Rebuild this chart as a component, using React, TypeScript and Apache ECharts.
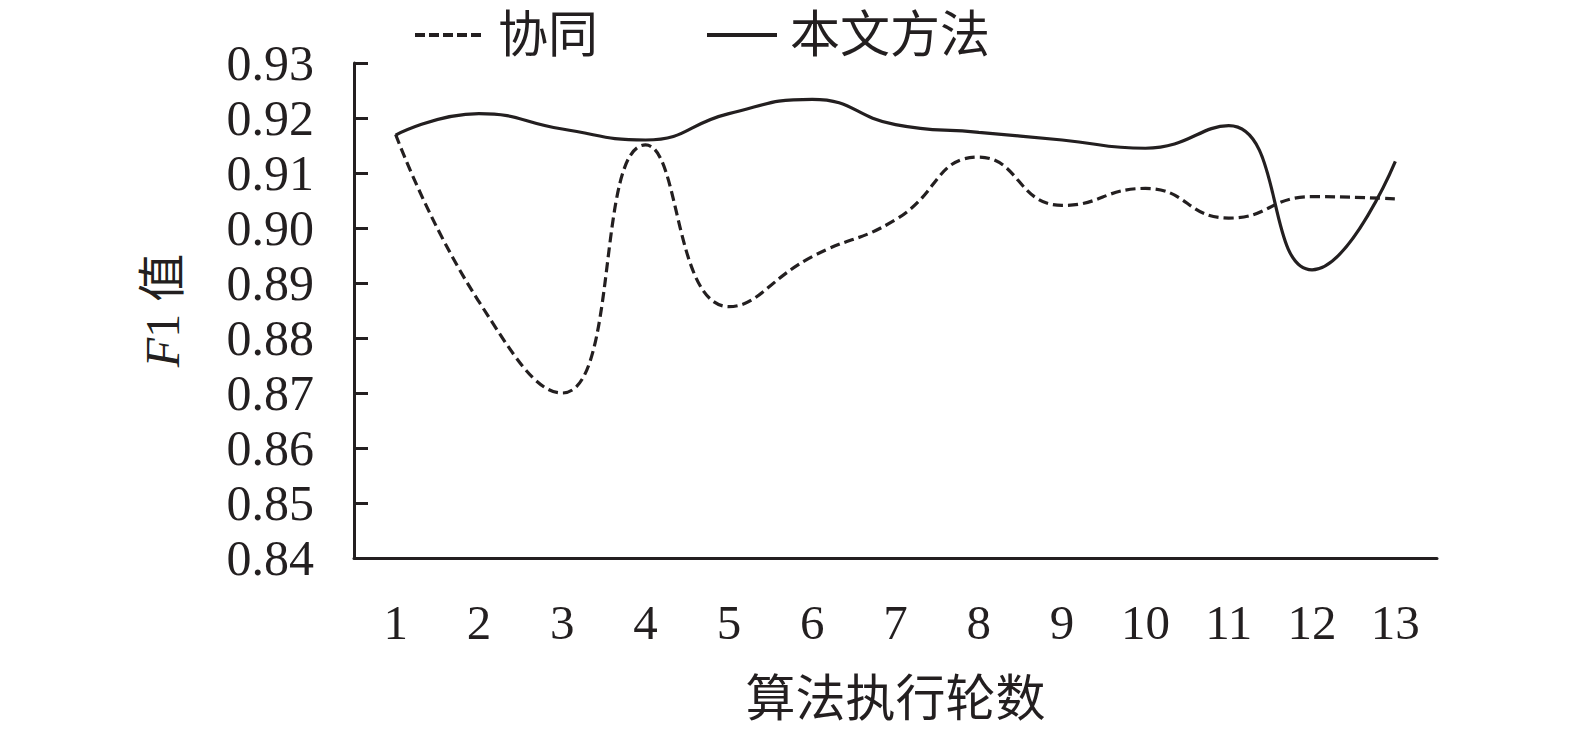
import React, { useEffect, useRef } from "react";
import * as echarts from "echarts";

const categories = ["1", "2", "3", "4", "5", "6", "7", "8", "9", "10", "11", "12", "13"];
const seriesNames = ["协同", "本文方法"];
const xieTong = [0.917, 0.8866, 0.87, 0.9151, 0.8857, 0.8948, 0.9015, 0.9129, 0.9041, 0.9072, 0.9018, 0.9057, 0.9053];
const benWen = [0.9169, 0.9208, 0.918, 0.916, 0.9208, 0.9234, 0.9188, 0.9174, 0.916, 0.9145, 0.9186, 0.8924, 0.9121];
const yMin = 0.84;
const yMax = 0.93;
const yStep = 0.01;

const INK = "#231f20";
const SERIF = "'Liberation Serif', 'Times New Roman', 'Noto Sans CJK SC', serif";

export default function App() {
  const ref = useRef<HTMLDivElement>(null);
  useEffect(() => {
    if (!ref.current) return;
    const chart = echarts.init(ref.current, null, { renderer: "svg" });
    chart.setOption({
      animation: false,
      backgroundColor: "#ffffff",
      textStyle: { fontFamily: SERIF, color: INK },
      legend: {
        left: 408,
        top: 5,
        itemWidth: 70,
        itemHeight: 16,
        itemGap: 107,
        itemStyle: { opacity: 0 },
        textStyle: { fontSize: 50, color: INK, fontFamily: SERIF, padding: [0, 0, 0, 8] },
        data: [
          { name: seriesNames[0], lineStyle: { width: 4, type: [10, 4], color: INK } },
          { name: seriesNames[1], lineStyle: { width: 4, type: "solid", color: INK } },
        ],
      },
      grid: { left: 354, right: 138, top: 63, bottom: 176, containLabel: false },
      xAxis: {
        type: "category",
        data: categories,
        boundaryGap: true,
        name: "算法执行轮数",
        nameLocation: "middle",
        nameGap: 116,
        nameTextStyle: { fontSize: 50, color: INK, fontFamily: SERIF },
        axisLine: { lineStyle: { color: INK, width: 3 } },
        axisTick: { inside: true, alignWithLabel: true, length: 13, lineStyle: { color: INK, width: 3 } },
        axisLabel: { fontSize: 49, color: INK, fontFamily: SERIF, margin: 40 },
        splitLine: { show: false },
      },
      yAxis: {
        type: "value",
        min: yMin,
        max: yMax,
        interval: yStep,
        name: "{i|F}1 值",
        nameLocation: "middle",
        nameRotate: 90,
        nameGap: 168,
        nameTextStyle: {
          fontSize: 48,
          color: INK,
          fontFamily: SERIF,
          rich: {
            i: { fontSize: 48, fontStyle: "italic", color: INK, fontFamily: SERIF },
          },
        },
        axisLine: { show: true, lineStyle: { color: INK, width: 3 } },
        axisTick: { show: true, inside: true, length: 14, lineStyle: { color: INK, width: 3 } },
        axisLabel: {
          fontSize: 50,
          color: INK,
          fontFamily: SERIF,
          margin: 40,
          formatter: (v: number) => v.toFixed(2),
        },
        splitLine: { show: false },
      },
      series: [
        {
          name: seriesNames[0],
          type: "line",
          data: xieTong,
          smooth: 0.5,
          symbol: "none",
          lineStyle: { color: INK, width: 3.2, type: [10, 5] },
          itemStyle: { color: INK },
        },
        {
          name: seriesNames[1],
          type: "line",
          data: benWen,
          smooth: 0.5,
          symbol: "none",
          lineStyle: { color: INK, width: 3.2, type: "solid" },
          itemStyle: { color: INK },
        },
      ],
    });
    return () => chart.dispose();
  }, []);
  return (
    <div
      ref={ref}
      style={{ position: "fixed", left: 0, top: 0, width: 1575, height: 734, background: "#fff" }}
    />
  );
}
